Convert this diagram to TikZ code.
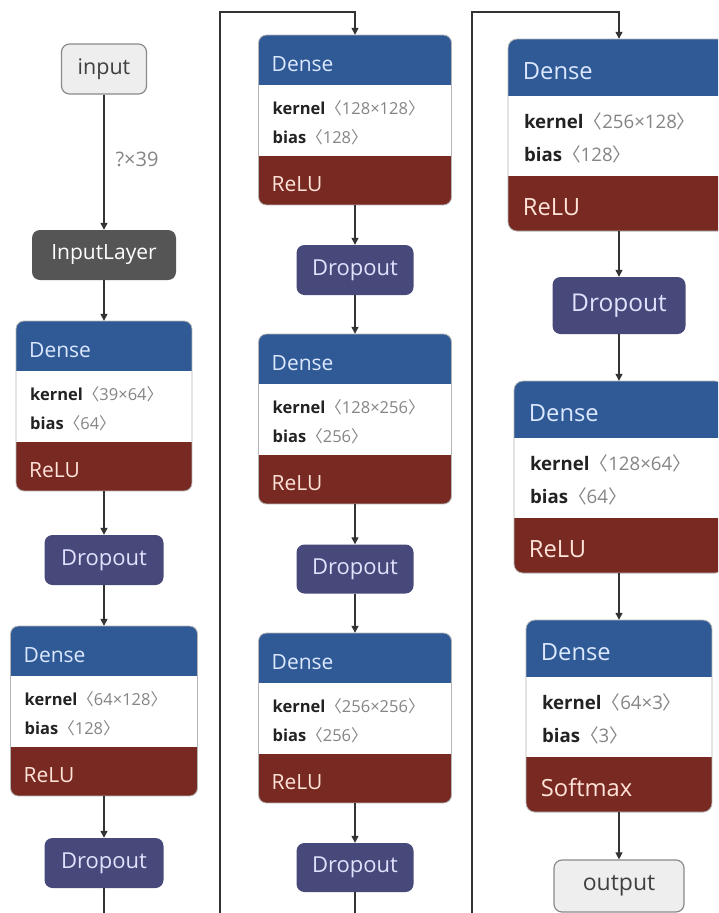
\documentclass[tikz,border=0pt]{standalone}
\usepackage{fontspec}
\setmainfont{Open Sans}
\newfontfamily\cjkbr{Noto Sans CJK SC}
\usetikzlibrary{arrows.meta}

\definecolor{hdrblue}{HTML}{2F5A95}
\definecolor{actred}{HTML}{782A22}
\definecolor{dropblue}{HTML}{47497A}
\definecolor{layergray}{HTML}{555555}
\definecolor{iofill}{HTML}{EEEEEE}
\definecolor{ioline}{HTML}{8A8A8A}
\definecolor{wirecol}{HTML}{333333}
\definecolor{hdrtext}{HTML}{DCE8FF}
\definecolor{acttext}{HTML}{FFE2D8}
\definecolor{droptext}{HTML}{E2E2FF}
\definecolor{shapetext}{HTML}{858585}
\definecolor{bodytext}{HTML}{222222}
\definecolor{blockedge}{HTML}{B5B5B5}

\tikzset{
  wire/.style={draw=wirecol, line width=1.3pt, -{Triangle[length=7pt,width=7pt]}},
  plainwire/.style={draw=wirecol, line width=1.3pt},
  dropnode/.style={fill=dropblue, rounded corners=8pt, text=droptext, inner sep=0pt,
    font=\fontsize{22}{22}\selectfont},
  layernode/.style={fill=layergray, rounded corners=8pt, text=white, inner sep=0pt,
    font=\fontsize{21}{21}\selectfont},
  ionode/.style={fill=iofill, draw=ioline, line width=1.2pt, rounded corners=8pt,
    text=black!75, inner sep=0pt, font=\fontsize{21.5}{21.5}\selectfont},
}

% bracketed tensor shape, e.g. <39x64>
\newcommand\tshape[1]{\textcolor{shapetext}{{\cjkbr 〈}#1{\cjkbr 〉}}}

% Dense layer block: #1 name, #2 centre x, #3 top y, #4 width, #5 scale,
% #6 kernel shape, #7 bias shape, #8 activation
\newcommand\denseblock[8]{%
  \pgfmathsetmacro\dl{#2-#4/2}%
  \pgfmathsetmacro\dr{#2+#4/2}%
  \pgfmathsetmacro\da{#3+50*#5}%
  \pgfmathsetmacro\db{#3+121*#5}%
  \pgfmathsetmacro\dc{#3+170*#5}%
  \pgfmathsetmacro\dh{170*#5}%
  \pgfmathsetmacro\dm{#3+85*#5}%
  \pgfmathsetmacro\rad{8*#5}%
  \pgfmathsetmacro\fa{21*#5}%
  \pgfmathsetmacro\fb{16.5*#5}%
  \begin{scope}
    \clip[rounded corners=\rad pt] (\dl,#3) rectangle (\dr,\dc);
    \fill[white] (\dl,\da) rectangle (\dr,\db);
    \fill[hdrblue] (\dl,#3) rectangle (\dr,\da);
    \fill[actred] (\dl,\db) rectangle (\dr,\dc);
  \end{scope}
  \draw[blockedge, line width=0.8pt, rounded corners=\rad pt] (\dl,#3) rectangle (\dr,\dc);
  \node[inner sep=0pt, minimum width=#4pt, minimum height=\dh pt] (#1) at (#2,\dm) {};
  \node[anchor=base west, inner sep=0pt, text=hdrtext, font=\fontsize{\fa}{\fa}\selectfont]
    (#1-title) at ({\dl+13*#5},{#3+36*#5}) {Dense};
  \node[anchor=base west, inner sep=0pt, text=bodytext, font=\fontsize{\fb}{\fb}\selectfont]
    (#1-kernel) at ({\dl+14*#5},{#3+79*#5}) {\textbf{kernel}\tshape{#6}};
  \node[anchor=base west, inner sep=0pt, text=bodytext, font=\fontsize{\fb}{\fb}\selectfont]
    (#1-bias) at ({\dl+14*#5},{#3+108*#5}) {\textbf{bias}\tshape{#7}};
  \node[anchor=base west, inner sep=0pt, text=acttext, font=\fontsize{\fa}{\fa}\selectfont]
    (#1-act) at ({\dl+13*#5},{#3+156*#5}) {#8};
}

\begin{document}
\begin{tikzpicture}[x=1pt,y=-1pt]
  \useasboundingbox (0,0) rectangle (718,913);
  \fill[white] (0,0) rectangle (718,913);
  \clip (0,0) rectangle (718,913);

  % ---- first column ----
  \node[ionode, minimum width=85pt, minimum height=50pt] (input) at (104,69) {input};
  \node[layernode, minimum width=144pt, minimum height=50pt] (inlayer) at (104,255) {InputLayer};
  \denseblock{dense1}{104}{321}{176}{1}{39×64}{64}{ReLU}
  \node[dropnode, minimum width=119pt, minimum height=50pt] (drop1) at (104,560) {Dropout};
  \denseblock{dense2}{104}{626}{187}{1}{64×128}{128}{ReLU}
  \node[dropnode, minimum width=119pt, minimum height=50pt] (drop2) at (104,863) {Dropout};
  \coordinate (end1) at (104,914);

  % ---- second column ----
  \denseblock{dense3}{355}{35}{193}{1}{128×128}{128}{ReLU}
  \node[dropnode, minimum width=117pt, minimum height=50pt] (drop3) at (355,270) {Dropout};
  \denseblock{dense4}{355}{334}{193}{1}{128×256}{256}{ReLU}
  \node[dropnode, minimum width=117pt, minimum height=49pt] (drop4) at (355,569) {Dropout};
  \denseblock{dense5}{355}{633}{193}{1}{256×256}{256}{ReLU}
  \node[dropnode, minimum width=117pt, minimum height=49pt] (drop5) at (355,867.5) {Dropout};
  \coordinate (end2) at (355,914);

  % ---- third column ----
  \denseblock{dense6}{619}{39}{222}{1.13}{256×128}{128}{ReLU}
  \node[dropnode, minimum width=133pt, minimum height=57pt,
        font=\fontsize{24.5}{24.5}\selectfont] (drop6) at (619,305.5) {Dropout};
  \denseblock{dense7}{619}{381}{210}{1.13}{128×64}{64}{ReLU}
  \denseblock{dense8}{619}{620}{186}{1.13}{64×3}{3}{Softmax}
  \node[ionode, minimum width=130pt, minimum height=52pt,
        font=\fontsize{23}{23}\selectfont] (output) at (619,886) {output};

  % ---- links between columns ----
  \coordinate (jumpA) at (220,914);
  \coordinate (turnA) at (355,12);
  \coordinate (jumpB) at (472,914);
  \coordinate (turnB) at (619,12);

  % ---- connectors ----
  \draw[wire] (input) -- node[pos=0.48, right=11pt, inner sep=0pt, text=shapetext,
      font=\fontsize{20}{20}\selectfont] (shapelbl) {?×39} (inlayer);
  \draw[wire] (inlayer) -- (dense1);
  \draw[wire] (dense1) -- (drop1);
  \draw[wire] (drop1) -- (dense2);
  \draw[wire] (dense2) -- (drop2);
  \draw[plainwire] (drop2) -- (end1);

  \draw[wire] (jumpA) |- (turnA) -- (dense3);
  \draw[wire] (dense3) -- (drop3);
  \draw[wire] (drop3) -- (dense4);
  \draw[wire] (dense4) -- (drop4);
  \draw[wire] (drop4) -- (dense5);
  \draw[wire] (dense5) -- (drop5);
  \draw[plainwire] (drop5) -- (end2);

  \draw[wire] (jumpB) |- (turnB) -- (dense6);
  \draw[wire] (dense6) -- (drop6);
  \draw[wire] (drop6) -- (dense7);
  \draw[wire] (dense7) -- (dense8);
  \draw[wire] (dense8) -- (output);
\end{tikzpicture}
\end{document}
